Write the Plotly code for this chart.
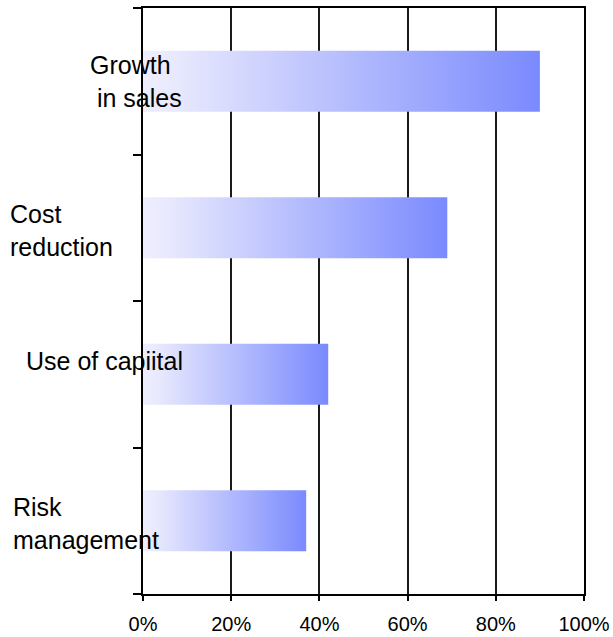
import plotly.graph_objects as go

# Data (top to bottom)
categories = ["Growth<br>&nbsp;in sales", "Cost<br>reduction", "Use of capiital", "Risk<br>management"]
values = [0.90, 0.69, 0.42, 0.37]
x_ticks = [0, 0.2, 0.4, 0.6, 0.8, 1.0]
x_tick_labels = ["0%", "20%", "40%", "60%", "80%", "100%"]

# label placement (style only)
label_x = [-0.125, -0.305, -0.27, -0.30]
label_dy = [0.0, -0.02, 0.09, -0.02]

n = len(categories)
half = 0.208
fig = go.Figure()
for i, (cat, v) in enumerate(zip(categories, values)):
    yc = n - 1 - i
    fig.add_trace(go.Scatter(
        x=[0, v, v, 0, 0],
        y=[yc - half, yc - half, yc + half, yc + half, yc - half],
        mode="lines",
        line=dict(width=0),
        fill="toself",
        fillgradient=dict(
            type="horizontal",
            colorscale=[[0, "#eeeefe"], [0.08, "#e8e9fd"], [1, "#7a8afd"]],
        ),
        hoverinfo="skip",
        showlegend=False,
    ))
    fig.add_annotation(
        x=label_x[i], y=(yc + label_dy[i] + 0.5) / n, xref="paper", yref="paper",
        text=cat, showarrow=False, xanchor="left", yanchor="middle",
        align="left", font=dict(size=25, color="black"),
    )

fig.update_layout(
    width=613, height=637,
    margin=dict(l=143, r=29, t=8, b=43, autoexpand=False),
    plot_bgcolor="white", paper_bgcolor="white",
    font=dict(family="Liberation Sans, Arial, sans-serif", color="black"),
    showlegend=False,
)
fig.update_xaxes(
    range=[0, 1], tickvals=x_ticks, ticktext=x_tick_labels,
    showgrid=True, gridcolor="#1a1a1a", gridwidth=2,
    showline=True, linecolor="black", linewidth=2, mirror=True,
    ticks="outside", ticklen=5, tickwidth=2, tickcolor="black",
    tickfont=dict(size=20), zeroline=False, ticklabelstandoff=6,
    automargin=False,
)
fig.update_yaxes(
    range=[-0.5, n - 0.5], tickvals=[k - 0.5 for k in range(n + 1)],
    showticklabels=False, showgrid=False, zeroline=False,
    showline=True, linecolor="black", linewidth=2, mirror=True,
    ticks="outside", ticklen=8, tickwidth=2, tickcolor="black",
    automargin=False,
)
fig.write_html("out.html")
